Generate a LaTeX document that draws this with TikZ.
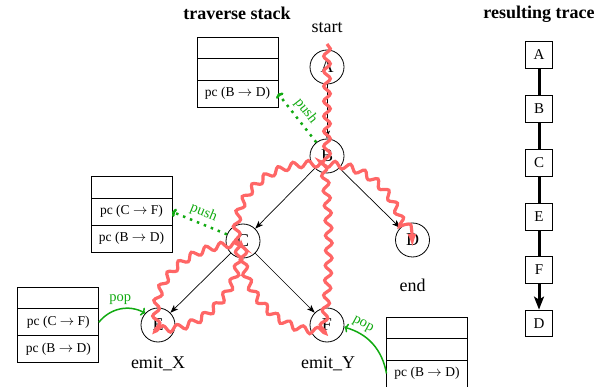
\documentclass[tikz,border=0pt]{standalone}
\usepackage{fontspec}
\setmainfont{Liberation Serif}
\usetikzlibrary{arrows.meta,decorations.pathmorphing,calc}
\definecolor{tracered}{HTML}{FF6666}
\definecolor{gr}{HTML}{11AA11}
\begin{document}
\begin{tikzpicture}[x=1pt,y=-1pt,
  vert/.style={circle,draw,line width=0.8pt,minimum size=34pt,inner sep=0pt,font=\fontsize{18}{20}\selectfont},
  lbl/.style={font=\fontsize{18}{20}\selectfont},
  ttl/.style={font=\fontsize{18}{20}\selectfont\bfseries},
  edge/.style={line width=0.7pt,-{Stealth[length=8pt,width=6pt,inset=2pt]}},
  cellE/.style={draw,line width=0.8pt,minimum width=81pt,minimum height=21.5pt,inner sep=0pt,outer sep=0pt,anchor=north},
  cellT/.style={cellE,minimum height=27pt,font=\fontsize{13.5}{16}\selectfont},
  pushline/.style={gr,line width=2.5pt,dash pattern=on 2.5pt off 5pt,-{To[length=4pt,width=9pt]}},
  popline/.style={gr,line width=1.5pt,-{To[length=4pt,width=9pt]}},
  glbl/.style={gr,font=\fontsize{14.5}{16}\selectfont},
  tbox/.style={draw,line width=0.8pt,minimum size=26.6pt,inner sep=0pt,font=\fontsize{15}{17}\selectfont},
  tline/.style={line width=3pt},
  redpath/.style={tracered,line width=3.2pt,decorate,
    decoration={snake,amplitude=3.3pt,segment length=15pt,post length=16pt},
    -{Latex[length=14pt,width=9pt]}}
]
\useasboundingbox (0,0) rectangle (610,387);

% titles
\node[ttl] (t1) at (237,13) {traverse stack};
\node[ttl] (t2) at (539,14) {resulting trace};

% graph
\node[vert] (A) at (327,67) {A};
\node[vert] (B) at (327,156) {B};
\node[vert] (C) at (243,241) {C};
\node[vert] (D) at (412.5,240) {D};
\node[vert] (E) at (158,325) {E};
\node[vert] (F) at (327,325) {F};

\node[lbl] (lstart) at (327,28) {start};
\node[lbl] (lend) at (412.5,285) {end};
\node[lbl] (lex) at (158,364) {emit\_X};
\node[lbl] (ley) at (328,364) {emit\_Y};

\draw[edge] (A) -- (B);
\draw[edge] (B) -- (C);
\draw[edge] (B) -- (D);
\draw[edge] (C) -- (E);
\draw[edge] (C) -- (F);

% stacks
\node[cellE] (s1a) at (237.5,37) {};
\node[cellE] (s1b) at (s1a.south) {};
\node[cellT] (s1c) at (s1b.south) {pc (B $\rightarrow$ D)};

\node[cellE] (s2a) at (131.5,176.7) {};
\node[cellT] (s2b) at (s2a.south) {pc (C $\rightarrow$ F)};
\node[cellT] (s2c) at (s2b.south) {pc (B $\rightarrow$ D)};

\node[cellE] (s3a) at (58.3,287.3) {};
\node[cellT] (s3b) at (s3a.south) {pc (C $\rightarrow$ F)};
\node[cellT] (s3c) at (s3b.south) {pc (B $\rightarrow$ D)};

\node[cellE] (s4a) at (427,317) {};
\node[cellE] (s4b) at (s4a.south) {};
\node[cellT] (s4c) at (s4b.south) {pc (B $\rightarrow$ D)};

% push / pop
\draw[pushline] (B) -- (s1c.east) node[midway,sloped,above,glbl] {push};
\draw[pushline] (C) -- (s2b.east) node[midway,sloped,above,glbl] {push};
\draw[popline] (s3b.east) to[bend left=40] node[midway,above,glbl] {pop} (E);
\draw[popline] (s4c.west) to[bend right=32] node[pos=0.78,sloped,above,glbl] {pop} (F);

% trace
\node[tbox] (tA) at (539,55) {A};
\node[tbox] (tB) at (539,109) {B};
\node[tbox] (tC) at (539,163) {C};
\node[tbox] (tE) at (539,216.7) {E};
\node[tbox] (tF) at (539,270) {F};
\node[tbox] (tD) at (539,323.3) {D};
\draw[tline] (tA) -- (tB);
\draw[tline] (tB) -- (tC);
\draw[tline] (tC) -- (tE);
\draw[tline] (tE) -- (tF);
\draw[tline,-{Stealth[length=13pt,width=10pt,inset=3pt]}] (tF) -- (tD);

% red traversal path
\coordinate (rs) at (327,44);
\coordinate (rt) at (412.5,248);
\draw[redpath] (rs) -- (B.center)
  .. controls (262,148) and (226,200) .. (C.center)
  .. controls (190,240) and (148,275) .. (E.center)
  .. controls (205,335) and (252,285) .. (C.center)
  .. controls (235,290) and (285,335) .. (F.center)
  .. controls (336,270) and (334,200) .. (B.center)
  .. controls (378,152) and (414,192) .. (rt);
\end{tikzpicture}
\end{document}
